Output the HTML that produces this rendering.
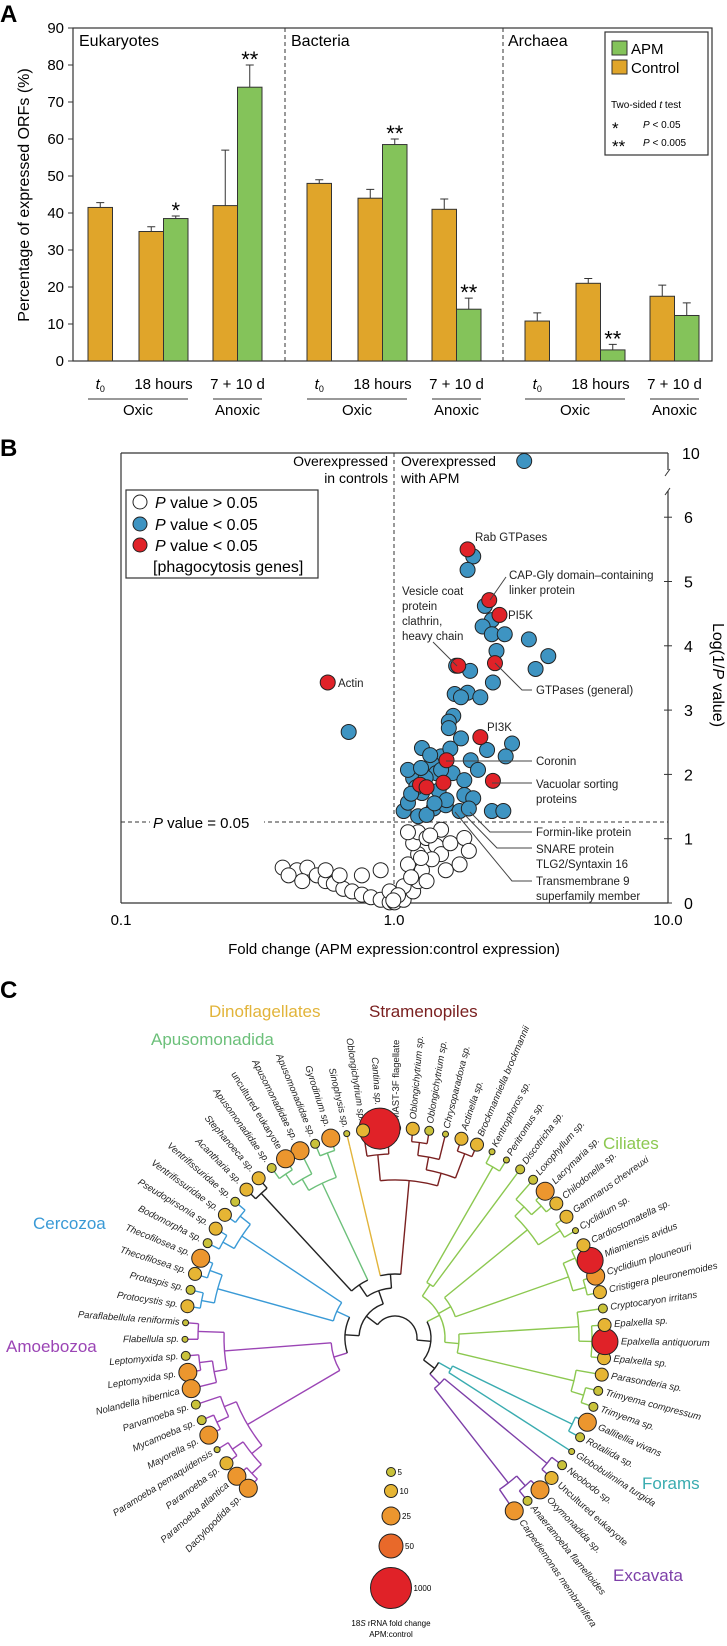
<!DOCTYPE html>
<html><head><meta charset="utf-8">
<style>
html,body{margin:0;padding:0;background:#fff;}
svg{display:block;font-family:"Liberation Sans",sans-serif;}
</style></head>
<body>
<svg id="fig" width="727" height="1646" viewBox="0 0 727 1646" xmlns="http://www.w3.org/2000/svg">
<rect x="0" y="0" width="727" height="1646" fill="#fff"/>
<!-- Panel A static -->
<text x="0" y="22" font-size="24" font-weight="bold">A</text>
<rect x="73" y="28" width="639" height="333" fill="none" stroke="#333" stroke-width="1.2"/>
<line x1="285" y1="28" x2="285" y2="361" stroke="#333" stroke-dasharray="4,3"/>
<line x1="503" y1="28" x2="503" y2="361" stroke="#333" stroke-dasharray="4,3"/>
<text x="79" y="46" font-size="16">Eukaryotes</text>
<text x="291" y="46" font-size="16">Bacteria</text>
<text x="508" y="46" font-size="16">Archaea</text>
<text transform="translate(29,195) rotate(-90)" text-anchor="middle" font-size="16">Percentage of expressed ORFs (%)</text>
<g>
<rect x="605" y="32" width="103" height="123" fill="#fff" stroke="#333" stroke-width="1.2"/>
<rect x="612" y="41" width="15" height="14" fill="#84c35a" stroke="#333"/>
<text x="631" y="54" font-size="15">APM</text>
<rect x="612" y="60" width="15" height="14" fill="#e0a52a" stroke="#333"/>
<text x="631" y="73" font-size="15">Control</text>
<text x="611" y="108" font-size="10">Two-sided <tspan font-style="italic">t</tspan> test</text>
<text x="612" y="134" font-size="17">*</text>
<text x="643" y="128" font-size="10"><tspan font-style="italic">P</tspan> &lt; 0.05</text>
<text x="612" y="152" font-size="17">**</text>
<text x="643" y="146" font-size="10"><tspan font-style="italic">P</tspan> &lt; 0.005</text>
</g>
<!-- Panel B static -->
<text x="0" y="456" font-size="24" font-weight="bold">B</text>
<line x1="121" y1="453" x2="121" y2="903" stroke="#333" stroke-width="1.2"/>
<line x1="121" y1="453" x2="668" y2="453" stroke="#333" stroke-width="1.2"/>
<line x1="121" y1="903" x2="668" y2="903" stroke="#333" stroke-width="1.2"/>
<line x1="668" y1="453" x2="668" y2="470" stroke="#333" stroke-width="1.2"/>
<line x1="668" y1="491" x2="668" y2="903" stroke="#333" stroke-width="1.2"/>
<line x1="665" y1="476" x2="670" y2="469" stroke="#333"/>
<line x1="665" y1="495" x2="670" y2="488" stroke="#333"/>
<line x1="394" y1="453" x2="394" y2="903" stroke="#333" stroke-dasharray="4,3"/>
<line x1="121" y1="822" x2="668" y2="822" stroke="#333" stroke-dasharray="4,3"/>
<rect x="150" y="814" width="114" height="16" fill="#fff"/>
<text x="153" y="828" font-size="15"><tspan font-style="italic">P</tspan> value = 0.05</text>
<text x="388" y="466" font-size="14" text-anchor="end">Overexpressed</text>
<text x="388" y="483" font-size="14" text-anchor="end">in controls</text>
<text x="401" y="466" font-size="14">Overexpressed</text>
<text x="401" y="483" font-size="14">with APM</text>
<text x="394" y="925" font-size="15" text-anchor="middle">1.0</text>
<text x="121" y="925" font-size="15" text-anchor="middle">0.1</text>
<text x="668" y="925" font-size="15" text-anchor="middle">10.0</text>
<text x="394" y="954" font-size="15" text-anchor="middle">Fold change (APM expression:control expression)</text>
<text transform="translate(713,675) rotate(90)" text-anchor="middle" font-size="16">Log(1/<tspan font-style="italic">P</tspan> value)</text>
<g id="gB"></g>
<g>
<rect x="126" y="490" width="192" height="88" fill="#fff" stroke="#333" stroke-width="1.2"/>
<circle cx="140" cy="502" r="7" fill="#fff" stroke="#222"/>
<text x="155" y="508" font-size="16"><tspan font-style="italic">P</tspan> value &gt; 0.05</text>
<circle cx="140" cy="524" r="7" fill="#3e94c2" stroke="#222"/>
<text x="155" y="530" font-size="16"><tspan font-style="italic">P</tspan> value &lt; 0.05</text>
<circle cx="140" cy="545" r="7" fill="#e02228" stroke="#222"/>
<text x="155" y="551" font-size="16"><tspan font-style="italic">P</tspan> value &lt; 0.05</text>
<text x="153" y="572" font-size="16">[phagocytosis genes]</text>
</g>
<g font-size="11.5" fill="#222">
<text x="475" y="541">Rab GTPases</text>
<text x="509" y="579">CAP-Gly domain–containing</text>
<text x="509" y="594">linker protein</text>
<line x1="506" y1="577" x2="490" y2="600" stroke="#444"/>
<text x="508" y="619">PI5K</text>
<text x="402" y="595">Vesicle coat</text>
<text x="402" y="610">protein</text>
<text x="402" y="625">clathrin,</text>
<text x="402" y="640">heavy chain</text>
<line x1="433" y1="642" x2="457" y2="666" stroke="#444"/>
<text x="338" y="687">Actin</text>
<text x="536" y="694">GTPases (general)</text>
<polyline points="495,663 522,690 532,690" fill="none" stroke="#444"/>
<text x="487" y="731">PI3K</text>
<text x="536" y="765">Coronin</text>
<line x1="446" y1="761" x2="532" y2="761" stroke="#444"/>
<text x="536" y="788">Vacuolar sorting</text>
<text x="536" y="803">proteins</text>
<line x1="492" y1="783" x2="532" y2="783" stroke="#444"/>
<text x="536" y="836">Formin-like protein</text>
<polyline points="470,812 490,832 532,832" fill="none" stroke="#444"/>
<text x="536" y="853">SNARE protein</text>
<text x="536" y="868">TLG2/Syntaxin 16</text>
<polyline points="462,812 497,848 532,848" fill="none" stroke="#444"/>
<text x="536" y="885">Transmembrane 9</text>
<text x="536" y="900">superfamily member</text>
<polyline points="455,812 512,881 532,881" fill="none" stroke="#444"/>
</g>
<!-- Panel C static -->
<text x="0" y="998" font-size="24" font-weight="bold">C</text>
<g id="gC"></g>
<g font-size="17">
<text x="209" y="1017" fill="#e2b43a">Dinoflagellates</text>
<text x="369" y="1017" fill="#7a2020">Stramenopiles</text>
<text x="151" y="1045" fill="#6cc07a">Apusomonadida</text>
<text x="603" y="1149" fill="#8cc850">Ciliates</text>
<text x="33" y="1229" fill="#3a9ad6">Cercozoa</text>
<text x="6" y="1352" fill="#9b45b5">Amoebozoa</text>
<text x="642" y="1489" fill="#3aacb0">Forams</text>
<text x="613" y="1581" fill="#7d3fa8">Excavata</text>
</g>
<g id="gLeg">
<text x="391" y="1626" font-size="8" text-anchor="middle">18<tspan font-style="italic">S</tspan> rRNA fold change</text>
<text x="391" y="1637" font-size="8" text-anchor="middle">APM:control</text>
</g>
</svg>
<script>
// ---------- Panel A data ----------
const aGroups = ['Eukaryotes','Bacteria','Archaea'];
const aTimes = ['t0','18 hours','7 + 10 d'];
const aControl = [41.5, 35, 42, 48, 44, 41, 10.8, 21, 17.5];
const aControlErr = [1.3, 1.3, 15, 1, 2.4, 2.8, 2.2, 1.3, 3];
const aAPM = [null, 38.5, 74, null, 58.5, 14, null, 3, 12.3];
const aAPMErr = [null, 0.7, 6, null, 1.5, 3, null, 1.5, 3.4];
const aStars = ['', '*', '**', '', '**', '**', '', '**', ''];
const aTicks = [0,10,20,30,40,50,60,70,80,90];

// ---------- Panel B data ----------
const bWhiteFC = [0.39,0.44,0.41,0.48,0.52,0.56,0.46,0.60,0.65,0.70,0.56,0.63,0.76,0.82,0.89,0.96,1.0,1.08,1.17,1.22,1.26,1.12,1.22,1.17,1.22,1.31,1.42,1.48,1.60,1.80,1.37,1.54,1.73,1.87,1.12,1.48,1.31,1.08,0.96,0.89,0.76,1.03,1.15,1.25,1.35,0.99];
const bWhiteP  = [0.55,0.51,0.43,0.55,0.43,0.34,0.34,0.30,0.22,0.18,0.51,0.43,0.13,0.09,0.05,0.01,0.01,0.05,0.18,0.34,0.51,0.60,0.76,0.93,1.10,1.01,0.89,0.76,0.93,1.01,0.68,0.51,0.60,0.81,1.10,1.14,0.34,0.26,0.18,0.51,0.43,0.12,0.40,0.70,1.05,0.04];
const bBlueFC = [2.98,1.94,1.85,2.14,2.27,2.10,2.27,2.53,3.10,2.36,3.65,3.28,1.68,1.89,2.29,1.66,1.85,1.75,2.06,1.64,1.58,1.58,1.75,2.69,1.26,2.18,2.55,1.90,1.48,1.37,1.17,1.42,1.63,1.80,2.02,1.26,1.80,1.94,1.48,1.12,1.08,1.22,1.39,1.54,1.73,2.27,2.50,1.31,1.87,1.12,0.68,1.20,1.30,1.45,1.35,1.55,1.25,1.40,1.60,1.15];
const bBlueP  = [9.8,5.39,5.18,4.62,4.40,4.30,4.18,4.18,4.10,3.92,3.84,3.64,3.69,3.61,3.43,3.25,3.27,3.20,3.20,2.91,2.82,2.72,2.56,2.48,2.41,2.38,2.28,2.22,2.28,2.17,1.94,2.02,2.02,1.91,2.07,1.71,1.68,1.63,2.07,2.07,1.43,1.35,1.47,1.52,1.43,1.43,1.43,1.37,1.47,1.56,2.66,1.80,1.95,1.75,2.30,1.60,2.10,1.55,2.40,1.70];
const bRedFC = [1.85,2.22,2.42,1.71,2.33,2.06,1.55,2.29,1.51,1.24,1.31,0.57];
const bRedP  = [5.5,4.71,4.48,3.69,3.73,2.58,2.22,1.90,1.87,1.84,1.80,3.43];
const bYTicks = [0,1,2,3,4,5,6];

// ---------- Panel C data ----------
const cLeaves = ['Carpediemonas membranifera','Anaeramoeba flamelloides','Oxymonadida sp.','Uncultured eukaryote','Neobodo sp.','Globobulimina turgida','Rotaliida sp.','Gallitellia vivans','Trimyema sp.','Trimyema compressum','Parasonderia sp.','Epalxella sp.','Epalxella antiquorum','Epalxella sp.','Cryptocaryon irritans','Cristigera pleuronemoides','Cyclidium plouneouri','Miamiensis avidus','Cardiostomatella sp.','Cyclidium sp.','Gammarus chevreuxi','Chilodonella sp.','Lacrymaria sp.','Loxophyllum sp.','Discotricha sp.','Peritromus sp.','Kentrophoros sp.','Brockmanniella brockmannii','Actinella sp.','Chrysoparadoxa sp.','Oblongichytrium sp.','Oblongichytrium sp.','MAST-3F flagellate','Cantina sp.','Oblongichytrium sp.','Sinophysis sp.','Gyrodinium sp.','Apusomonadidae sp.','Apusomonadidae sp.','uncultured eukaryote','Apusomonadidae sp.','Stephanoeca sp.','Acantharia sp.','Ventrifissuridae sp.','Ventrifissuridae sp.','Pseudopirsonia sp.','Bodomorpha sp.','Thecofilosea sp.','Thecofilosea sp.','Protaspis sp.','Protocystis sp.','Paraflabellula reniformis','Flabellula sp.','Leptomyxida sp.','Leptomyxida sp.','Nolandella hibernica','Parvamoeba sp.','Mycamoeba sp.','Mayorella sp.','Paramoeba pemaquidensis','Paramoeba sp.','Paramoeba atlantica','Dactylopodida sp.'];
const cFold = [25,5,25,10,5,3,5,25,5,5,10,10,100,10,5,10,25,100,10,3,10,10,25,5,5,3,3,10,10,3,5,10,5,1000,10,3,25,5,25,25,5,10,10,5,10,10,5,25,10,5,10,3,3,5,25,25,5,5,25,3,10,25,25];
const cLegendValues = [5,10,25,50,1000];

const NS='http://www.w3.org/2000/svg';
const svg=document.getElementById('fig');
function mk(tag,attrs,parent){const e=document.createElementNS(NS,tag);for(const k in attrs)e.setAttribute(k,attrs[k]);(parent||svg).appendChild(e);return e;}

// ===== Panel A =====
const yA = v => 361 - v*(333/90);
const groupStart=[88,307,525], timeOff=[0,51,125], BW=24.5;
aTicks.forEach(t=>{
  const tk=mk('line',{x1:68,x2:73,y1:yA(t),y2:yA(t),stroke:'#333'});
  
  
  const lb=mk('text',{x:64,y:yA(t)+5,'font-size':15,'text-anchor':'end'});
  lb.textContent=t;
  
  
});
function errBar(cx,top,err,name){
  const e=mk('path',{d:`M${cx},${top}V${yA(err)}M${cx-4},${yA(err)}H${cx+4}`,stroke:'#333',fill:'none'});
  
  
}
for(let g=0;g<3;g++){
  for(let t=0;t<3;t++){
    const i=g*3+t, x=groupStart[g]+timeOff[t];
    const cv=aControl[i];
    errBar(x+BW/2,yA(cv),cv+aControlErr[i],'error-control-'+i);
    const b=mk('rect',{x:x,y:yA(cv),width:BW,height:361-yA(cv),fill:'#e0a52a',stroke:'#333','stroke-width':1});
    
    
    let lc=x+BW/2;
    if(aAPM[i]!==null){
      const av=aAPM[i], ax=x+BW;
      errBar(ax+BW/2,yA(av),av+aAPMErr[i],'error-apm-'+i);
      const b2=mk('rect',{x:ax,y:yA(av),width:BW,height:361-yA(av),fill:'#84c35a',stroke:'#333','stroke-width':1});
      
      
      lc=x+BW;
      if(aStars[i]){
        const s=mk('text',{x:ax+BW/2,y:yA(av+aAPMErr[i])+2,'font-size':22,'text-anchor':'middle'});
        s.textContent=aStars[i];
        
        
      }
    }
    const lb=mk('text',{x:lc,y:389,'font-size':15,'text-anchor':'middle'});
    if(t===0){lb.innerHTML='<tspan font-style="italic">t</tspan><tspan font-size="9" dy="3">0</tspan>';}
    else lb.textContent=aTimes[t];
    
    
  }
  const gx=groupStart[g];
  const u1=mk('line',{x1:gx,x2:gx+timeOff[1]+2*BW,y1:399,y2:399,stroke:'#333'});
  
  
  const u2=mk('line',{x1:gx+timeOff[2],x2:gx+timeOff[2]+2*BW,y1:399,y2:399,stroke:'#333'});
  
  
  const o=mk('text',{x:gx+(timeOff[1]+2*BW)/2,y:415,'font-size':15,'text-anchor':'middle'});
  o.textContent='Oxic';
  
  
  const an=mk('text',{x:gx+timeOff[2]+BW,y:415,'font-size':15,'text-anchor':'middle'});
  an.textContent='Anoxic';
  
  
}

// ===== Panel B =====
const gB=document.getElementById('gB');
const xB = fc => 121 + (Math.log10(fc)+1)*273.5;
const yB = v => v>7 ? 453 + (10-v)*40 : 903 - v*64.3;
bYTicks.forEach(t=>{
  const tk=mk('line',{x1:664,x2:672,y1:yB(t),y2:yB(t),stroke:'#333'});
  
  
  const lb=mk('text',{x:684,y:yB(t)+6,'font-size':16});
  lb.textContent=t;
  
  
});
const t10=mk('text',{x:682,y:459,'font-size':16});
t10.textContent='10';


function pts(fcs,ps,fill,name){
  fcs.forEach((fc,i)=>{
    const c=mk('circle',{cx:xB(fc),cy:yB(ps[i]),r:7.5,fill:fill,stroke:'#222','stroke-width':1},gB);
    
    
  });
}
pts(bWhiteFC,bWhiteP,'#fff','point-nonsignificant');
pts(bBlueFC,bBlueP,'#3e94c2','point-significant');
pts(bRedFC,bRedP,'#e02228','point-phagocytosis');

// ===== Panel C =====
const gC=document.getElementById('gC');
const CX=395, CY=1338, R=210;
const nL=cLeaves.length;
const ang = i => -55.4 + i*(281.1/(nL-1));
const rad = d => d*Math.PI/180;
const P = (a,r) => [CX + r*Math.cos(rad(a)), CY - r*Math.sin(rad(a))];
function sizeR(v){const vs=[3,5,10,25,50,100,1000], rs=[3,4.5,6.5,9,12,13,20.5];
  for(let k=0;k<vs.length;k++) if(v<=vs[k]) return rs[k]; return 20.5;}
function sizeC(v){ if(v<=3) return '#c8c13a'; if(v<=5) return '#c9c23a'; if(v<=10) return '#e6b534'; if(v<=25) return '#ec962e'; if(v<=50) return '#e8692a'; return '#e02228';}
const PU='#7d3fa8',TE='#3aacb0',GR='#8cc850',RD='#7a2020',YE='#e2b43a',G2='#6cc07a',BL='#3a9ad6',AM='#9b45b5',BK='#222';
const tree=[[[{c:PU,k:[[1,[2,3]],[4,5]]},{c:TE,k:[6,[7,8]]}],{c:GR,k:[[[[9,10],11],[[12,13,14],15]],[[[16,17],[18,19]],[[20,21],[[22,23],24]]],[25,[26,27]]]}],
 [[[{c:RD,k:[[[28,29],[30,[31,32]]],[[33,34],35]]},{c:YE,k:[36]}],[{c:G2,k:[[37,38],[39,[40,41]]]},[42,43]]],[{c:BL,k:[[[44,45],[46,47]],[[48,49],[50,51]]]},{c:AM,k:[[[52,53],[[54,55],56]],[[57,[58,59]],[[60,61],[62,63]]]]}]]];
const STEP=13;
function layout(n,color,depth){
  if(typeof n==='number') return {a:ang(n-1),r:R,color:color,leaf:n};
  let col=color, kids=n;
  if(!Array.isArray(n)){col=n.c;kids=n.k;}
  const ch=kids.map(k=>layout(k,col,depth+1));
  const a=ch.reduce((s,c)=>s+c.a,0)/ch.length;
  const a1=Math.min(...ch.map(c=>c.a)), a2=Math.max(...ch.map(c=>c.a));
  let r=Math.max(18, Math.min(...ch.map(c=>c.r))-STEP);
  if(depth<=3) r=Math.min(r, 22+depth*14);
  return {a:a,a1:a1,a2:a2,r:r,color:col,ch:ch};
}
const root=layout(tree,BK,0);
function draw(n){
  if(n.leaf) return;
  n.ch.forEach(c=>{
    const p1=P(c.a,c.r), p2=P(c.a,n.r);
    const l=mk('line',{x1:p1[0],y1:p1[1],x2:p2[0],y2:p2[1],stroke:c.color,'stroke-width':1.4},gC);
    
    
    draw(c);
  });
  if(n.a2>n.a1){
    const s=P(n.a1,n.r), e=P(n.a2,n.r);
    const arc=mk('path',{d:`M${s[0]},${s[1]}A${n.r},${n.r} 0 ${n.a2-n.a1>180?1:0} 0 ${e[0]},${e[1]}`,fill:'none',stroke:n.color,'stroke-width':1.4},gC);
    
    
  }
}
draw(root);
cLeaves.forEach((name,i)=>{
  const a=ang(i), v=cFold[i], rr=sizeR(v);
  const p=P(a,R);
  const c=mk('circle',{cx:p[0],cy:p[1],r:rr,fill:sizeC(v),stroke:'#222','stroke-width':1},gC);
  
  
  const lp=P(a,R+rr+3);
  const left = a>90 && a<270;
  const rot = left ? 180-a : -a;
  const t=mk('text',{x:lp[0],y:lp[1],'font-size':9.5,'font-style':(/^(MAST|uncultured|Uncultured)/.test(name)?'normal':'italic'),'text-anchor':left?'end':'start','dominant-baseline':'middle',transform:`rotate(${rot} ${lp[0]} ${lp[1]})`,fill:'#222'},gC);
  t.textContent=name;
  
  
});
// size legend
const gLeg=document.getElementById('gLeg');
const legY=[1472,1491,1516,1546,1588];
cLegendValues.forEach((v,k)=>{
  const c=mk('circle',{cx:391,cy:legY[k],r:sizeR(v),fill:sizeC(v),stroke:'#222'},gLeg);
  
  
  const t=mk('text',{x:391+sizeR(v)+2,y:legY[k]+3,'font-size':8},gLeg);
  t.textContent=v;
  
  
});
</script>
</body></html>
